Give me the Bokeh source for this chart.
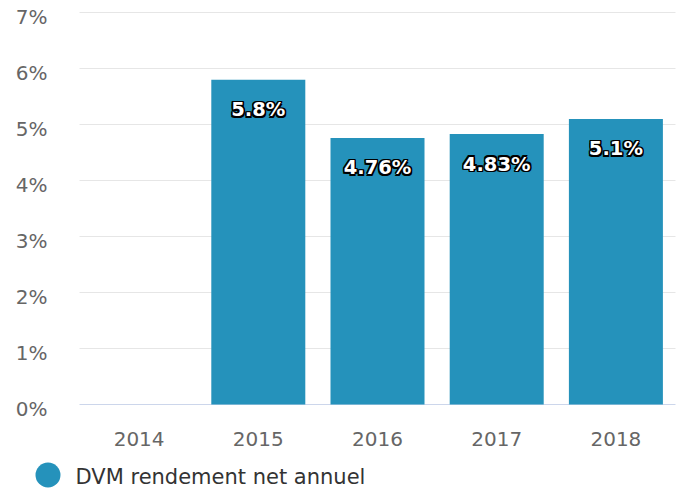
from bokeh.plotting import figure
from bokeh.models import ColumnDataSource, Range1d
from bokeh.embed import file_html
from bokeh.resources import INLINE
from bokeh.core.properties import value

# ---- data ----
years = ["2014", "2015", "2016", "2017", "2018"]
rendement = [None, 5.8, 4.76, 4.83, 5.1]
y_ticks = [0, 1, 2, 3, 4, 5, 6, 7]
y_tick_labels = ["0%", "1%", "2%", "3%", "4%", "5%", "6%", "7%"]
series_name = "DVM rendement net annuel"

# ---- style / layout ----
BAR = "#2592BB"
FONT = "DejaVu Sans"
W, H = 679, 494
PLOT_L, PLOT_R = 79, 675          # plot area, page pixels
ZERO_Y = 404                      # page y of 0 %
PX_PER_PCT = 56
PX_PER_CAT = (PLOT_R - PLOT_L) / len(years)

x_start = -0.5 - PLOT_L / PX_PER_CAT
x_end = x_start + W / PX_PER_CAT
y_end = ZERO_Y / PX_PER_PCT
y_start = -(H - ZERO_Y) / PX_PER_PCT


def px_x(px):
    return x_start + px / PX_PER_CAT


def px_dy(px):
    return px / PX_PER_PCT


idx = list(range(len(years)))
tops = [float("nan") if v is None else v for v in rendement]

p = figure(width=W, height=H, x_range=Range1d(x_start, x_end), y_range=Range1d(y_start, y_end),
           x_axis_location=None, y_axis_location=None,
           output_backend="svg", toolbar_location=None,
           min_border=0, min_border_left=0, min_border_right=0, min_border_top=0, min_border_bottom=0)
p.outline_line_color = None
p.grid.visible = False
p.background_fill_color = "white"
p.border_fill_color = "white"

# grid lines
grid_src = ColumnDataSource(dict(y=y_ticks[1:]))
p.segment(x0=-0.5, x1=len(years) - 0.5, y0="y", y1="y", source=grid_src,
          line_color="#e6e6e6", line_width=1)
# x axis line at 0
p.segment(x0=[-0.5], x1=[len(years) - 0.5], y0=[y_ticks[0]], y1=[y_ticks[0]],
          line_color="#ccd6eb", line_width=1)

# bars
src = ColumnDataSource(dict(x=idx, top=tops))
p.vbar(x="x", top="top", width=94 / PX_PER_CAT, source=src, fill_color=BAR, line_color=None)

# data labels: black halo + white text
lab_x = [i for i, v in zip(idx, rendement) if v is not None]
lab_v = [v for v in rendement if v is not None]
lab_t = [f"{v:g}%" for v in lab_v]
lab_src = ColumnDataSource(dict(x=lab_x, y=[v - px_dy(30) for v in lab_v], t=lab_t))
d = 1.4
for dx, dy in [(-d, 0), (d, 0), (0, -d), (0, d), (-d, -d), (d, d), (-d, d), (d, -d)]:
    p.text(x="x", y="y", text="t", source=lab_src, x_offset=dx, y_offset=dy,
           text_align="center", text_baseline="middle",
           text_font=value(FONT), text_font_size="19.5px", text_font_style="bold",
           text_color="black")
p.text(x="x", y="y", text="t", source=lab_src,
       text_align="center", text_baseline="middle",
       text_font=value(FONT), text_font_size="19.5px", text_font_style="bold",
       text_color="white")

# y tick labels
ysrc = ColumnDataSource(dict(y=[t - px_dy(4.5) for t in y_ticks], t=y_tick_labels))
p.text(x=px_x(47), y="y", text="t", source=ysrc,
       text_align="right", text_baseline="middle",
       text_font=value(FONT), text_font_size="20px", text_color="#666666")

# x tick labels
xsrc = ColumnDataSource(dict(x=idx, t=years))
p.text(x="x", y=-px_dy(438.7 - ZERO_Y), text="t", source=xsrc,
       text_align="center", text_baseline="middle",
       text_font=value(FONT), text_font_size="20px", text_color="#666666")

# legend
p.scatter(x=[px_x(47.5)], y=[-px_dy(474.5 - ZERO_Y)], size=25, marker="circle",
          fill_color=BAR, line_color=None)
p.text(x=[px_x(75)], y=[-px_dy(476 - ZERO_Y)], text=[series_name],
       text_font=value(FONT), text_font_size="21px", text_color="#333333",
       text_align="left", text_baseline="middle")

open("out.html", "w").write(file_html(p, INLINE))
